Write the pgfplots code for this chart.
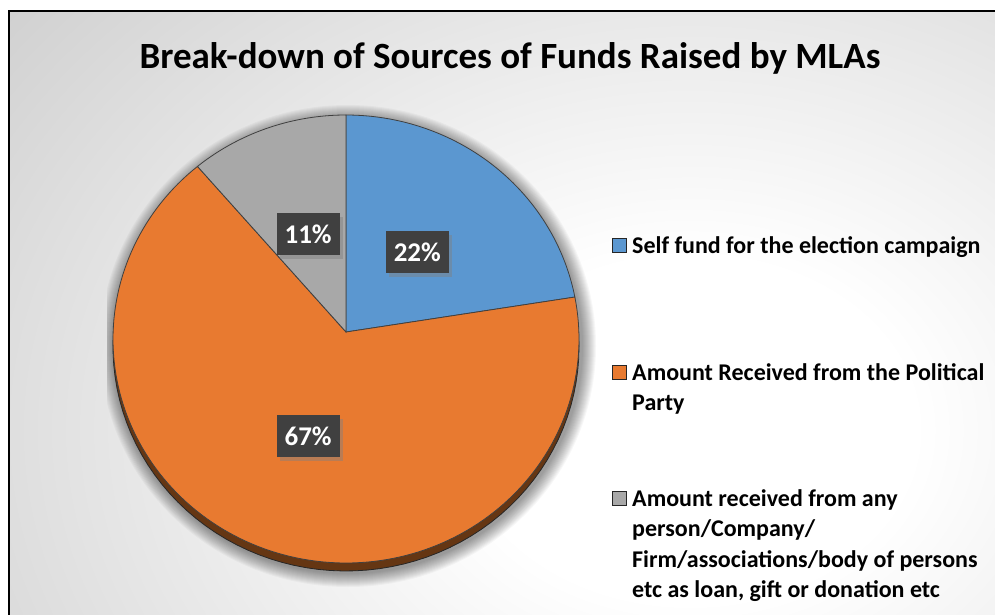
\documentclass[border=0pt]{standalone}
\usepackage{pgfplots}
\pgfplotsset{compat=1.18}
\usepackage{pgfplotstable}
\usepackage{fontspec}
\setmainfont{Carlito}
\usetikzlibrary{shadows}

\definecolor{sblue}{HTML}{5B97D0}
\definecolor{sorange}{HTML}{E87A30}
\definecolor{sgray}{HTML}{A8A8A8}
\definecolor{rim}{HTML}{653613}
\definecolor{lblbox}{HTML}{404040}

\pgfdeclareradialshading{bgshade}{\pgfpointorigin}{%
  color(0bp)=(white); color(6bp)=(white); color(30bp)=(black!25); color(50bp)=(black!25)}

\tikzset{
  lbl/.style={fill=lblbox, text=white, font=\fontsize{27}{30}\selectfont\bfseries,
      minimum width=63pt, minimum height=42pt, inner sep=0pt,
      drop shadow={opacity=0.45, shadow xshift=3pt, shadow yshift=-4pt}},
  leg/.style={anchor=base west, inner sep=0pt, font=\fontsize{24}{30}\selectfont\bfseries},
}

% share of funds, per cent
\pgfplotstableread{
share
22
67
11
}\funds

\begin{document}
\begin{tikzpicture}
\pgfplotstablegetelem{0}{share}\of\funds \edef\vA{\pgfplotsretval}
\pgfplotstablegetelem{1}{share}\of\funds \edef\vB{\pgfplotsretval}
\pgfplotstablegetelem{2}{share}\of\funds \edef\vC{\pgfplotsretval}
\pgfmathsetmacro\aA{90}
\pgfmathsetmacro\aB{\aA-3.6*\vA}
\pgfmathsetmacro\aC{\aB-3.6*\vB}
\pgfmathsetmacro\aD{\aC-3.6*\vC}
% label positions
\pgfmathsetmacro\mA{(\aA+\aB)/2}
\pgfmathsetmacro\mB{(\aB+\aC)/2}
\pgfmathsetmacro\mC{(\aC+\aD)/2}
\pgfmathsetmacro\xA{346+0.48*233*cos(\mA)}\pgfmathsetmacro\yA{335-0.48*224*sin(\mA)}
\pgfmathsetmacro\xB{346+0.48*233*cos(\mB)}\pgfmathsetmacro\yB{335-0.48*224*sin(\mB)}
\pgfmathsetmacro\xC{346+0.48*233*cos(\mC)}\pgfmathsetmacro\yC{335-0.48*224*sin(\mC)}
\begin{axis}[
    at={(0,0)}, anchor=south west,
    scale only axis, width=995pt, height=615pt,
    xmin=0, xmax=995, ymin=0, ymax=615, y dir=reverse,
    hide axis,
  ]
  % background
  \fill[white] (axis cs:0,0) rectangle (axis cs:995,615);
  \begin{scope}
    \clip (axis cs:9,11) rectangle (axis cs:1000,620);
    \shade[shading=bgshade] (axis cs:690-933,430-717) rectangle (axis cs:690+933,430+717);
  \end{scope}
  \draw[black, line width=2pt] (axis cs:9,620) -- (axis cs:9,11) -- (axis cs:1000,11);

  % soft shadow of the pie
  \begin{scope}
    \clip (axis cs:107,90) rectangle (axis cs:640,587);
    \pgfplotsinvokeforeach{0,...,13}{
      \fill[black, opacity=0.03] (axis cs:348,346) ellipse [x radius={235pt+#1pt}, y radius={228pt+#1pt}];
    }
  \end{scope}

  % side of the pie
  \addplot[fill=rim, draw=black!85, line width=0.8pt, domain=0:360, samples=120, variable=\t]
    ({346+233*cos(\t)}, {347-224*sin(\t)}) -- cycle;

  % slices
  \addplot[fill=sblue, draw=black!75, line width=0.8pt, domain=\aB:\aA, samples=60, variable=\t]
    ({346+233*cos(\t)}, {339-224*sin(\t)}) -- (axis cs:346,332) -- cycle;
  \addplot[fill=sorange, draw=black!75, line width=0.8pt, domain=\aC:\aB, samples=150, variable=\t]
    ({346+233*cos(\t)}, {339-224*sin(\t)}) -- (axis cs:346,332) -- cycle;
  \addplot[fill=sgray, draw=black!75, line width=0.8pt, domain=\aD:\aC, samples=40, variable=\t]
    ({346+233*cos(\t)}, {339-224*sin(\t)}) -- (axis cs:346,332) -- cycle;

  % data labels
  \node[lbl] at (axis cs:\xA,\yA) {\vA\%};
  \node[lbl] at (axis cs:\xB,\yB) {\vB\%};
  \node[lbl] at (axis cs:\xC,\yC) {\vC\%};

  % title
  \node[anchor=base, inner sep=0pt, font=\fontsize{37}{44}\selectfont\bfseries] at (axis cs:510,69)
    {Break-down of Sources of Funds Raised by MLAs};

  % legend
  \fill[sblue, draw=black!85, line width=0.8pt] (axis cs:612,238) rectangle (axis cs:626,252);
  \node[leg] at (axis cs:632,253) {Self fund for the election campaign};
  \fill[sorange, draw=black!85, line width=0.8pt] (axis cs:612,365) rectangle (axis cs:626,379);
  \node[leg] at (axis cs:632,380) {Amount Received from the Political};
  \node[leg] at (axis cs:632,410) {Party};
  \fill[sgray, draw=black!85, line width=0.8pt] (axis cs:612,491) rectangle (axis cs:626,505);
  \node[leg] at (axis cs:632,506) {Amount received from any};
  \node[leg] at (axis cs:632,536) {person/Company/};
  \node[leg] at (axis cs:632,567) {Firm/associations/body of persons};
  \node[leg] at (axis cs:632,597) {etc as loan, gift or donation etc};
\end{axis}
\pgfresetboundingbox
\path (0,0) rectangle (995pt,615pt);
\end{tikzpicture}
\end{document}
